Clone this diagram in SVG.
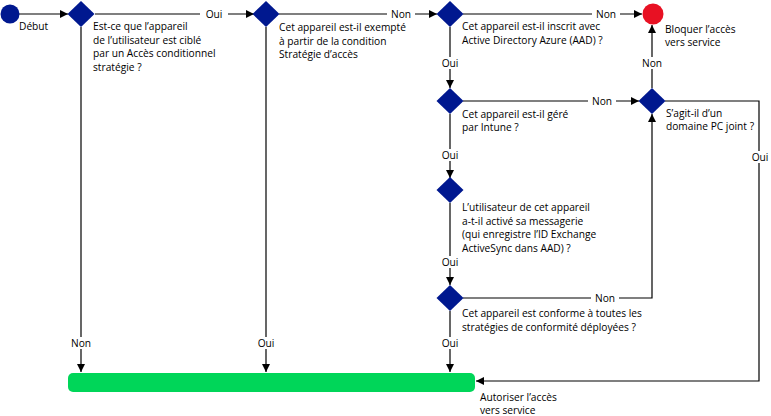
<svg xmlns="http://www.w3.org/2000/svg" width="771" height="416" viewBox="0 0 771 416">
<style>
text{font-family:"Open Sans","Liberation Sans",sans-serif;font-size:10.2px;fill:#000}
.lbl{text-anchor:middle}
.dia{fill:#00188f}
.conn{fill:none;stroke:#000;stroke-width:1.2}
.bg{fill:#fff}
</style>
<defs>
<marker id="ah" markerUnits="userSpaceOnUse" markerWidth="9" markerHeight="9" refX="8" refY="4" orient="auto">
<path d="M0,0 L8,4 L0,8 z" fill="#000"/>
</marker>
</defs>
<rect width="771" height="416" fill="#fff"/>
<g id="connectors">
<path class="conn" d="M19,14 H68" marker-end="url(#ah)"/>
<path class="conn" d="M95,14 H254" marker-end="url(#ah)"/>
<path class="conn" d="M279,14 H437" marker-end="url(#ah)"/>
<path class="conn" d="M463,14 H642" marker-end="url(#ah)"/>
<path class="conn" d="M450,27 V88" marker-end="url(#ah)"/>
<path class="conn" d="M450,114 V178" marker-end="url(#ah)"/>
<path class="conn" d="M450,203 V285" marker-end="url(#ah)"/>
<path class="conn" d="M450,311 V372" marker-end="url(#ah)"/>
<path class="conn" d="M463,101 H639" marker-end="url(#ah)"/>
<path class="conn" d="M652,88 V25" marker-end="url(#ah)"/>
<path class="conn" d="M463,298 H652 V114" marker-end="url(#ah)"/>
<path class="conn" d="M665,101 H759 V381 H476" marker-end="url(#ah)"/>
<path class="conn" d="M81,27 V372" marker-end="url(#ah)"/>
<path class="conn" d="M266,27 V372" marker-end="url(#ah)"/>
<rect class="bg" x="200" y="8" width="28" height="12"/><text class="lbl" x="214" y="18">Oui</text>
<rect class="bg" x="387" y="8" width="28" height="12"/><text class="lbl" x="401" y="17.5">Non</text>
<rect class="bg" x="592" y="8" width="28" height="12"/><text class="lbl" x="606" y="18">Non</text>
<rect class="bg" x="438" y="57" width="24" height="12"/><text class="lbl" x="450" y="67">Oui</text>
<rect class="bg" x="438" y="149" width="24" height="12"/><text class="lbl" x="450" y="159">Oui</text>
<rect class="bg" x="438" y="256" width="24" height="12"/><text class="lbl" x="450" y="266">Oui</text>
<rect class="bg" x="438" y="337" width="24" height="12"/><text class="lbl" x="450" y="347">Oui</text>
<rect class="bg" x="588" y="95" width="28" height="12"/><text class="lbl" x="602" y="105">Non</text>
<rect class="bg" x="639" y="57" width="26" height="12"/><text class="lbl" x="652" y="67">Non</text>
<rect class="bg" x="591" y="292" width="28" height="12"/><text class="lbl" x="605" y="302">Non</text>
<rect class="bg" x="747" y="151" width="24" height="12"/><text class="lbl" x="760" y="161">Oui</text>
<rect class="bg" x="68" y="337" width="26" height="12"/><text class="lbl" x="81" y="347">Non</text>
<rect class="bg" x="254" y="337" width="24" height="12"/><text class="lbl" x="266" y="347">Oui</text>
</g>
<g id="start">
<circle cx="10" cy="14" r="9.5" fill="#00188f"/>
<text x="19" y="30">Début</text>
</g>
<g id="d1">
<path class="dia" d="M81,1 L94.5,14 L81,27 L67.5,14 z"/>
<text x="93" y="30">Est-ce que l’appareil</text>
<text x="93" y="44">de l’utilisateur est ciblé</text>
<text x="93" y="57">par un Accès conditionnel</text>
<text x="93" y="71">stratégie ?</text>
</g>
<g id="d2">
<path class="dia" d="M266,1 L279.5,14 L266,27 L252.5,14 z"/>
<text x="279" y="31">Cet appareil est-il exempté</text>
<text x="279" y="44.5">à partir de la condition</text>
<text x="279" y="58">Stratégie d’accès</text>
</g>
<g id="d3">
<path class="dia" d="M450,1 L463.5,14 L450,27 L436.5,14 z"/>
<text x="462" y="30">Cet appareil est-il inscrit avec</text>
<text x="462" y="44">Active Directory Azure (AAD) ?</text>
</g>
<g id="block">
<circle cx="653" cy="14" r="10.5" fill="#e81123"/>
<text x="665" y="33">Bloquer l’accès</text>
<text x="665" y="46">vers service</text>
</g>
<g id="d4">
<path class="dia" d="M450,88 L463.5,101 L450,114 L436.5,101 z"/>
<text x="462" y="118">Cet appareil est-il géré</text>
<text x="462" y="131">par Intune ?</text>
</g>
<g id="d7">
<path class="dia" d="M652,88 L665.5,101 L652,114 L638.5,101 z"/>
<text x="666" y="117">S’agit-il d’un</text>
<text x="666" y="130">domaine PC joint ?</text>
</g>
<g id="d5">
<path class="dia" d="M450,177 L463.5,190 L450,203 L436.5,190 z"/>
<text x="462" y="211">L’utilisateur de cet appareil</text>
<text x="462" y="225">a-t-il activé sa messagerie</text>
<text x="462" y="238">(qui enregistre l’ID Exchange</text>
<text x="462" y="252">ActiveSync dans AAD) ?</text>
</g>
<g id="d6">
<path class="dia" d="M450,285 L463.5,298 L450,311 L436.5,298 z"/>
<text x="462" y="317">Cet appareil est conforme à toutes les</text>
<text x="462" y="331">stratégies de conformité déployées ?</text>
</g>
<g id="allow">
<rect x="68" y="373" width="407" height="19" rx="5" fill="#00d659"/>
<text x="480" y="401">Autoriser l’accès</text>
<text x="480" y="414">vers service</text>
</g>
</svg>
